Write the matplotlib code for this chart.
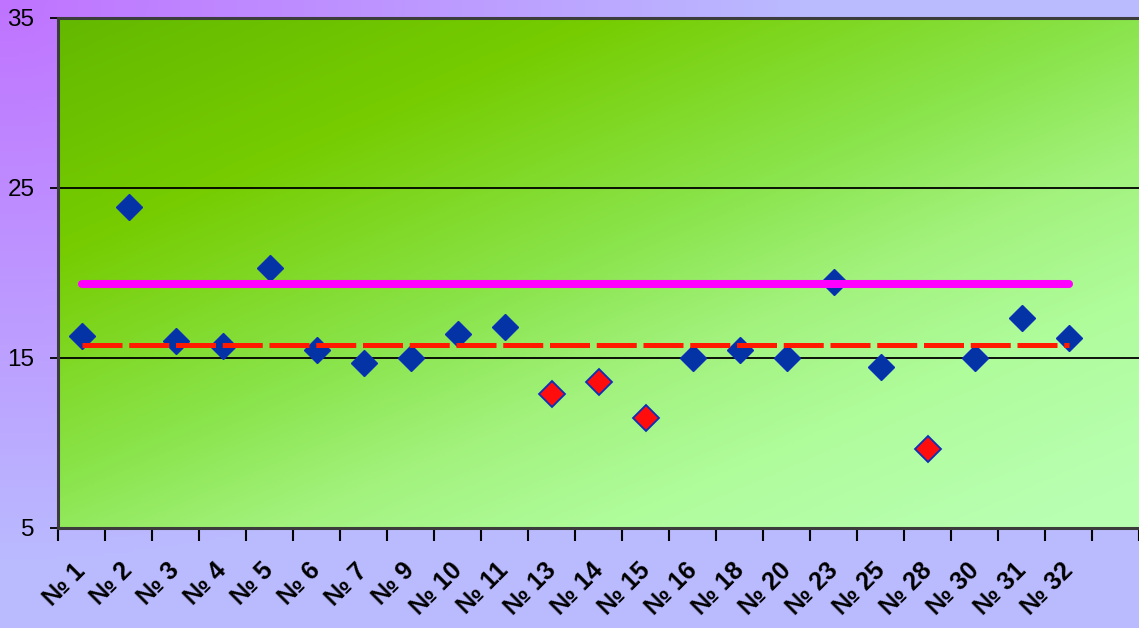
import numpy as np
import matplotlib
matplotlib.use("Agg")
import matplotlib.pyplot as plt
import matplotlib.transforms as mtransforms
from matplotlib.colors import LinearSegmentedColormap

plt.rcParams['font.family'] = ['Liberation Sans', 'DejaVu Sans']

labels = ["№ 1", "№ 2", "№ 3", "№ 4", "№ 5", "№ 6", "№ 7", "№ 9", "№ 10", "№ 11",
          "№ 13", "№ 14", "№ 15", "№ 16", "№ 18", "№ 20", "№ 23", "№ 25", "№ 28",
          "№ 30", "№ 31", "№ 32"]
values = [16.3, 23.9, 16.0, 15.7, 20.3, 15.5, 14.7, 15.0, 16.4, 16.8,
          12.9, 13.6, 11.5, 15.0, 15.5, 15.0, 19.5, 14.5, 9.65,
          15.0, 17.35, 16.2]
low = ["№ 13", "№ 14", "№ 15", "№ 28"]   # drawn in red
upper_level = 19.33
lower_level = 15.75

W, H = 1139, 628
fig = plt.figure(figsize=(W / 100, H / 100), dpi=100)

# figure background: violet in the top-left corner fading to lavender
bg = fig.add_axes([0, 0, 1, 1], zorder=-2)
yy, xx = np.mgrid[0:1:200j, 0:1:360j]
t = np.clip(np.sqrt((xx * W / 800) ** 2 + (yy * H / 560) ** 2), 0, 1)
c0 = np.array([192, 115, 255]) / 255
c1 = np.array([186, 186, 255]) / 255
img = c0 + (c1 - c0) * t[..., None]
bg.imshow(img, extent=[0, 1, 0, 1], aspect='auto', origin='upper')
bg.axis('off')

ax = fig.add_axes([58 / W, 1 - 528 / H, 1 - 58 / W, (528 - 18) / H])
ax.patch.set_alpha(0)

# plot-area gradient: dark green top-left to pale green bottom-right
green = LinearSegmentedColormap.from_list("g", [
    (0.0, (100 / 255, 185 / 255, 0)),
    (0.25, (118 / 255, 204 / 255, 0)),
    (0.5, (138 / 255, 228 / 255, 75 / 255)),
    (0.65, (162 / 255, 242 / 255, 125 / 255)),
    (0.8, (175 / 255, 252 / 255, 155 / 255)),
    (1.0, (185 / 255, 255 / 255, 178 / 255)),
])
vv, uu = np.mgrid[0:1:200j, 0:1:360j]
ax.imshow(0.5 * uu + 0.55 * vv, cmap=green, vmin=0, vmax=1,
          extent=[-0.5, 22.5, 5, 35], aspect='auto', origin='upper', zorder=0)

x = np.arange(len(labels))
for yv in [15, 25]:
    ax.axhline(yv, color='black', lw=1.3, zorder=1)

vals = np.array(values)
is_low = np.array([l in low for l in labels])
ax.plot(x[~is_low], vals[~is_low], 'D', ms=13.2, color='#0433a6',
        mec='#0a2fb8', mew=1, zorder=3)
ax.plot(x[is_low], vals[is_low], 'D', ms=13.2, color='#ff0d0d',
        mec='#0a2fb8', mew=1.3, zorder=3)

ax.plot(x, [lower_level] * len(x), color='#ff1a00', lw=3.6, ls=(0, (8, 1.35)),
        zorder=4)
ax.plot(x, [upper_level] * len(x), color='#ff00ff', lw=5.8,
        solid_capstyle='round', zorder=4)

ax.set_xlim(-0.5, 22.5)
ax.set_ylim(5, 35)
ax.set_yticks([5, 15, 25, 35])
ax.tick_params(axis='y', length=6, width=1.3, color='black', pad=11,
               labelsize=17.5)
ax.set_xticks(x)
ax.set_xticklabels(labels, rotation=45, ha='right', rotation_mode='anchor',
                   fontweight='bold', fontsize=18)
ax.set_xticks(np.arange(-0.5, 23, 1), minor=True)
ax.tick_params(axis='x', which='major', length=0, pad=22)
ax.tick_params(axis='x', which='minor', length=9, width=1.5, color='black')

shift = mtransforms.ScaledTranslation(-8 / 100, 0, fig.dpi_scale_trans)
for lab in ax.get_xticklabels():
    lab.set_transform(lab.get_transform() + shift)

for side in ['left', 'top', 'bottom']:
    ax.spines[side].set_color('#3c3c3c')
    ax.spines[side].set_linewidth(2.2)
ax.spines['right'].set_visible(False)

fig.savefig("out.png", dpi=100)
